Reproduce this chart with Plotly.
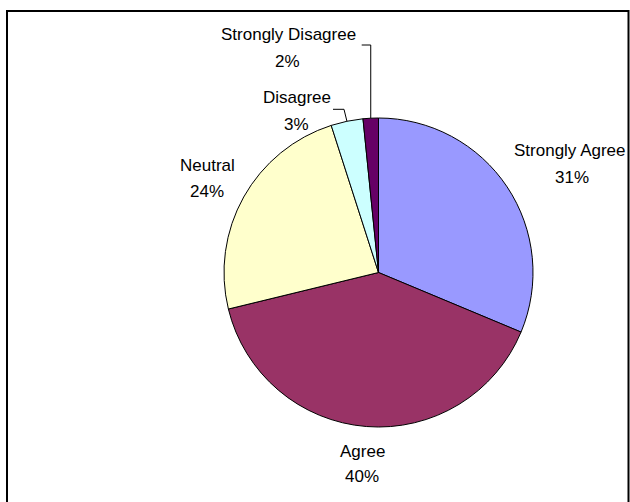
import math
import plotly.graph_objects as go

# ---- data ----
labels = ["Strongly Agree", "Agree", "Neutral", "Disagree", "Strongly Disagree"]
values = [31.3, 39.9, 23.85, 3.35, 1.6]
colors = ["#9999FF", "#993366", "#FFFFCC", "#CCFFFF", "#660066"]

W, H = 630, 502
CX, CY, R = 378.5, 272.5, 154.5


def px(x):
    return x / W


def py(y):
    return 1 - y / H


fig = go.Figure(go.Pie(
    labels=labels, values=values, sort=False, direction="clockwise", rotation=0,
    marker=dict(colors=colors, line=dict(color="black", width=1)),
    textinfo="none", hoverinfo="label+percent", showlegend=False,
    domain=dict(x=[px(CX - R), px(CX + R)], y=[py(CY + R), py(CY - R)]),
))

# label placement (pixel centres of the two text lines)
label_pos = {
    "Strongly Agree": (570, 150.5, 571.5, 177.5),
    "Agree": (362, 451.5, 362, 476.5),
    "Neutral": (207, 166, 207, 191),
    "Disagree": (297, 97.5, 296.5, 124),
    "Strongly Disagree": (288.5, 34.5, 287.5, 61.5),
}

total = sum(values)
anns = []
for lab, v in zip(labels, values):
    x1, y1, x2, y2 = label_pos[lab]
    font = dict(family="Liberation Sans, Arial", size=17, color="black")
    anns.append(dict(x=px(x1), y=py(y1), xref="paper", yref="paper", text=lab,
                     showarrow=False, font=font, xanchor="center", yanchor="middle"))
    anns.append(dict(x=px(x2), y=py(y2), xref="paper", yref="paper",
                     text=f"{round(100 * v / total)}%", showarrow=False, font=font,
                     xanchor="center", yanchor="middle"))

# leader lines for the two small slices, ending at the slice mid-angle on the rim
cum = 0
mid = {}
for lab, v in zip(labels, values):
    a = 2 * math.pi * (cum + v / 2) / total
    mid[lab] = (CX + R * math.sin(a), CY - R * math.cos(a))
    cum += v

shapes = []
ex, ey = mid["Strongly Disagree"]
shapes.append(dict(type="path", xref="paper", yref="paper",
                   path=f"M {px(361.7)} {py(45)} L {px(ex)} {py(45)} L {px(ex)} {py(ey)}",
                   line=dict(color="black", width=1)))
ex, ey = mid["Disagree"]
shapes.append(dict(type="path", xref="paper", yref="paper",
                   path=f"M {px(333)} {py(109.3)} L {px(344)} {py(109.3)} L {px(ex)} {py(ey)}",
                   line=dict(color="black", width=1)))
# outer frame
shapes.append(dict(type="rect", xref="paper", yref="paper",
                   x0=px(7), y0=py(520), x1=px(628.5), y1=py(11),
                   line=dict(color="black", width=2), fillcolor="rgba(0,0,0,0)"))

fig.update_layout(width=W, height=H, margin=dict(l=0, r=0, t=0, b=0),
                  paper_bgcolor="white", plot_bgcolor="white",
                  annotations=anns, shapes=shapes)
fig.write_html("out.html")
